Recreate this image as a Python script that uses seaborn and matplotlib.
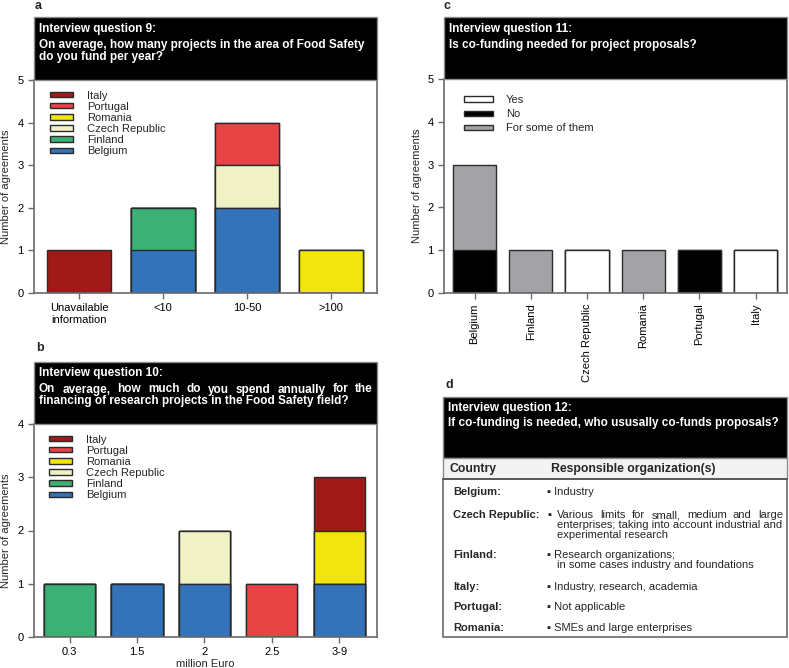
import numpy as np
import pandas as pd
import matplotlib
matplotlib.use("Agg")
import matplotlib.pyplot as plt
from matplotlib.patches import Patch, Rectangle
import seaborn as sns

sns.set_style("ticks")
plt.rcParams["font.family"] = ["Liberation Sans", "DejaVu Sans"]

# ------------------------------------------------------------------ #
# Data
# ------------------------------------------------------------------ #
countries = ["Belgium", "Finland", "Czech Republic", "Romania", "Portugal", "Italy"]  # bottom -> top
country_colors = {
    "Italy": "#A11A18",
    "Portugal": "#E84446",
    "Romania": "#F1E510",
    "Czech Republic": "#F0F1C4",
    "Finland": "#3BB176",
    "Belgium": "#3473BA",
}

q9_categories = ["Unavailable\ninformation", "<10", "10-50", ">100"]
q9_counts = {
    "Belgium":        [0, 1, 2, 0],
    "Finland":        [0, 1, 0, 0],
    "Czech Republic": [0, 0, 1, 0],
    "Romania":        [0, 0, 0, 1],
    "Portugal":       [0, 0, 1, 0],
    "Italy":          [1, 0, 0, 0],
}

q10_categories = ["0.3", "1.5", "2", "2.5", "3-9"]
q10_counts = {
    "Belgium":        [0, 1, 1, 0, 1],
    "Finland":        [1, 0, 0, 0, 0],
    "Czech Republic": [0, 0, 1, 0, 0],
    "Romania":        [0, 0, 0, 0, 1],
    "Portugal":       [0, 0, 0, 1, 0],
    "Italy":          [0, 0, 0, 0, 1],
}

q11_categories = ["Belgium", "Finland", "Czech Republic", "Romania", "Portugal", "Italy"]
q11_answers = ["Yes", "No", "For some of them"]  # bottom -> top
q11_colors = {"Yes": "#FFFFFF", "No": "#000000", "For some of them": "#A3A3A7"}
q11_counts = {
    "Yes":              [0, 0, 1, 0, 0, 1],
    "No":               [1, 0, 0, 0, 1, 0],
    "For some of them": [2, 1, 0, 1, 0, 0],
}

q12_countries = ["Belgium:", "Czech Republic:", "Finland:", "Italy:", "Portugal:", "Romania:"]
q12_answers = [
    ["Industry"],
    ["Various limits for small, medium and large",
     "enterprises; taking into account industrial and",
     "experimental research"],
    ["Research organizations;", "in some cases industry and foundations"],
    ["Industry, research, academia"],
    ["Not applicable"],
    ["SMEs and large enterprises"],
]

# ------------------------------------------------------------------ #
# Layout helpers (pixel based)
# ------------------------------------------------------------------ #
W, H = 789, 668
EDGE = "#2a2a2a"
SPINE = "#6a6a6a"
FS = 8


def rect(l, t, r, b):
    return [l / W, 1 - b / H, (r - l) / W, (b - t) / H]


def stacked_bars(ax, cats, counts, order, colors, width):
    # draw cumulative totals top layer first, lower layers painted over
    cum = np.zeros(len(cats))
    layers = []
    for name in order:
        cum = cum + np.array(counts[name], dtype=float)
        layers.append((name, cum.copy()))
    for name, heights in reversed(layers):
        df = pd.DataFrame({"cat": cats, "n": heights})
        sns.barplot(data=df, x="cat", y="n", order=cats, color=colors[name],
                    saturation=1, width=width, edgecolor=EDGE, linewidth=1,
                    errorbar=None, ax=ax)


def style_axes(ax, ymax, xlim):
    ax.set_ylim(0, ymax)
    ax.set_xlim(*xlim)
    ax.set_yticks(range(ymax + 1))
    for s in ax.spines.values():
        s.set_color(SPINE)
        s.set_linewidth(1.2)
    ax.tick_params(axis="both", color=SPINE, labelsize=FS, length=4,
                   width=1, labelcolor="black")
    ax.set_ylabel("Number of agreements", fontsize=FS)
    ax.set_xlabel("")


def legend(ax, labels, colors, anchor, hlen, spacing):
    handles = [Patch(facecolor=colors[l], edgecolor=EDGE, linewidth=1) for l in labels]
    ax.legend(handles, labels, loc="upper left", bbox_to_anchor=anchor,
              frameon=False, fontsize=FS, handlelength=hlen, handleheight=0.35,
              handletextpad=1.2, labelspacing=spacing, borderpad=0,
              borderaxespad=0)


fig = plt.figure(figsize=(W / 100, H / 100), dpi=100)

# panel a
ax_a = fig.add_axes(rect(34, 80, 377, 293))
stacked_bars(ax_a, q9_categories, q9_counts, countries, country_colors, 0.76)
style_axes(ax_a, 5, (-0.54, 3.55))
ax_a.yaxis.set_label_coords(-0.066, 0.5)
legend(ax_a, countries[::-1], country_colors, (0.047, 0.95), 2.1, 0.1)

# panel b
ax_b = fig.add_axes(rect(34, 424, 377, 637))
stacked_bars(ax_b, q10_categories, q10_counts, countries, country_colors, 0.76)
style_axes(ax_b, 4, (-0.53, 4.56))
ax_b.set_xlabel("million Euro", fontsize=FS, labelpad=1)
ax_b.yaxis.set_label_coords(-0.066, 0.5)
legend(ax_b, countries[::-1], country_colors, (0.044, 0.95), 2.1, 0.1)

# panel c
ax_c = fig.add_axes(rect(444, 79, 787, 293))
stacked_bars(ax_c, q11_categories, q11_counts, q11_answers, q11_colors, 0.77)
style_axes(ax_c, 5, (-0.545, 5.56))
ax_c.tick_params(axis="x", labelrotation=90)
ax_c.yaxis.set_label_coords(-0.064, 0.5)
legend(ax_c, q11_answers, q11_colors, (0.058, 0.925), 2.6, 0.38)

# ------------------------------------------------------------------ #
# Headers, panel letters and table (overlay in pixel coordinates)
# ------------------------------------------------------------------ #
ov = fig.add_axes([0, 0, 1, 1])
ov.set_xlim(0, W)
ov.set_ylim(H, 0)
ov.axis("off")
renderer = fig.canvas.get_renderer()


def justified(x0, x1, y, text, **kw):
    # spread words over [x0, x1], all on one baseline
    words = text.split()
    objs = [ov.text(0, y + 3.5, w, va="baseline", ha="left", **kw) for w in words]
    widths = [o.get_window_extent(renderer).width for o in objs]
    gap = (x1 - x0 - sum(widths)) / (len(words) - 1)
    x = x0
    for o, w in zip(objs, widths):
        o.set_x(x)
        x += w + gap


def header(l, t, r, b, lines, ys, justify=()):
    ov.add_patch(Rectangle((l, t), r - l, b - t, facecolor="black",
                           edgecolor="#8c8c8c", linewidth=1))
    for i, (txt, y) in enumerate(zip(lines, ys)):
        kw = dict(color="white", fontsize=8.5, fontweight="bold")
        if i in justify:
            justified(l + 5, r - 4, y, txt, **kw)
        else:
            ov.text(l + 5, y, txt, va="center", ha="left", **kw)


header(34, 17, 377, 80,
       ["Interview question 9:",
        "On average, how many projects in the area of Food Safety",
        "do you fund per year?"], [29, 45, 57])
header(34, 362, 377, 424,
       ["Interview question 10:",
        "On average, how much do you spend annually for the",
        "financing of research projects in the Food Safety field?"], [373, 389, 401],
       justify=(1,))
header(444, 17, 787, 79,
       ["Interview question 11:",
        "Is co-funding needed for project proposals?"], [29, 45])
header(443, 397, 787, 458,
       ["Interview question 12:",
        "If co-funding is needed, who ususally co-funds proposals?"], [408, 423])

for letter, x, y in [("a", 35, 6), ("b", 36, 348), ("c", 444, 6), ("d", 446, 385)]:
    ov.text(x, y, letter, fontsize=9, fontweight="bold", va="center", ha="left")

# table body
ov.add_patch(Rectangle((443, 458), 344, 21, facecolor="#F3F3F3",
                       edgecolor="#8c8c8c", linewidth=1))
ov.add_patch(Rectangle((443, 479), 344, 158, facecolor="white",
                       edgecolor="#6a6a6a", linewidth=1.2))
ov.plot([443, 787], [479, 479], color="#555555", linewidth=1.2)
ov.text(450, 469, "Country", fontsize=8.8, fontweight="bold", va="center")
ov.text(551, 469, "Responsible organization(s)", fontsize=8.8,
        fontweight="bold", va="center")

row_y = [492, 515, 555, 587, 607, 628]
for name, lines, y in zip(q12_countries, q12_answers, row_y):
    ov.text(453, y, name, fontsize=FS, fontweight="bold", va="center")
    for i, line in enumerate(lines):
        if i == 0 and len(lines) == 3:
            justified(547, 783, y, "\u25aa " + line, fontsize=FS)
        elif i == 0:
            ov.text(547, y, "\u25aa " + line, fontsize=FS, va="center")
        else:
            ov.text(557, y + i * 10, line, fontsize=FS, va="center")

fig.savefig("out.png", dpi=100)
